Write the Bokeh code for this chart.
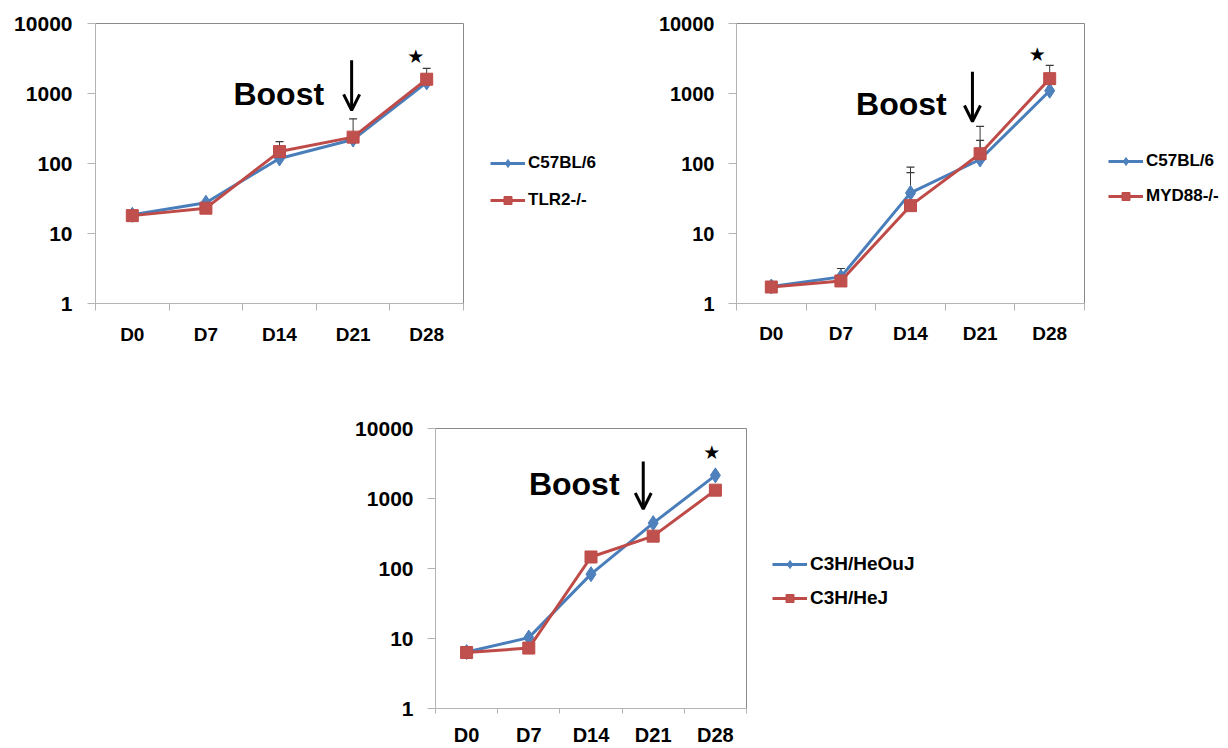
import math
from bokeh.plotting import figure
from bokeh.models import (ColumnDataSource, Range1d, FixedTicker, PrintfTickFormatter,
                          Legend, LegendItem, Whisker, TeeHead, Arrow, OpenHead, Label)
from bokeh.layouts import column, row
from bokeh.embed import file_html
from bokeh.resources import INLINE

NaN = float("nan")

# ---------------- data ----------------
days = ["D0", "D7", "D14", "D21", "D28"]
yticks = [1, 10, 100, 1000, 10000]

p1_names = ["C57BL/6", "TLR2-/-"]
p1_blue = [18.5, 27.5, 118, 220, 1440]
p1_red = [18, 23, 148, 238, 1600]
p1_blue_err = [NaN, NaN, NaN, NaN, NaN]
p1_red_err = [NaN, NaN, 205, 435, 2280]

p2_names = ["C57BL/6", "MYD88-/-"]
p2_blue = [1.75, 2.4, 38, 114, 1095]
p2_red = [1.72, 2.1, 25, 138, 1630]
p2_blue_err = [NaN, 3.16, 89, 214, NaN]
p2_red_err = [NaN, NaN, 74, 339, 2530]

p3_names = ["C3H/HeOuJ", "C3H/HeJ"]
p3_blue = [6.4, 10.3, 83, 445, 2140]
p3_red = [6.3, 7.3, 146, 290, 1316]
p3_blue_err = [NaN, NaN, NaN, NaN, NaN]
p3_red_err = [NaN, NaN, NaN, NaN, NaN]

BLUE_LINE = "#4A7EBB"
BLUE_FILL = "#4F81BD"
RED_LINE = "#BE4B48"
RED_FILL = "#C0504D"
AXIS_C = "#b4b4b4"
OUTLINE_C = "#8a8a8a"
FONT = "Liberation Sans"


def series_glyphs(fig, xs, blue, red):
    bl = fig.line(xs, blue, line_color=BLUE_LINE, line_width=3)
    bm = fig.scatter(xs, blue, marker="diamond", size=15, fill_color=BLUE_FILL,
                     line_color=BLUE_LINE, line_width=1)
    rl = fig.line(xs, red, line_color=RED_LINE, line_width=3)
    rm = fig.scatter(xs, red, marker="square", size=12, fill_color=RED_FILL,
                     line_color=RED_LINE, line_width=1)
    return bl, bm, rl, rm


def make_panel(names, blue, red, blue_err, red_err, geo):
    n = len(days)
    xs = [i + 0.5 for i in range(n)]
    p = figure(width=geo["width"], height=geo["height"], y_axis_type="log",
               x_range=Range1d(0, n), y_range=Range1d(yticks[0], yticks[-1]),
               output_backend="svg", toolbar_location=None,
               min_border_left=geo["left"], min_border_right=geo["right"],
               min_border_top=geo["top"], min_border_bottom=geo["bottom"])
    p.xgrid.visible = False
    p.ygrid.visible = False
    p.outline_line_color = OUTLINE_C
    p.outline_line_width = 1
    p.background_fill_color = "white"
    p.border_fill_color = "white"

    # x axis: labels at centres, ticks at category boundaries
    xa = p.xaxis[0]
    xa.ticker = FixedTicker(ticks=xs, minor_ticks=list(range(n + 1)))
    xa.major_label_overrides = {x: d for x, d in zip(xs, days)}
    xa.major_tick_line_color = None
    xa.major_tick_out = 0
    xa.major_tick_in = 0
    xa.minor_tick_line_color = AXIS_C
    xa.minor_tick_out = geo["xtick"]
    xa.minor_tick_in = 0
    xa.axis_line_color = AXIS_C
    xa.major_label_text_font = FONT
    xa.major_label_text_font_style = "bold"
    xa.major_label_text_font_size = geo["xfont"]
    xa.major_label_text_color = "black"
    xa.major_label_standoff = geo["xstand"]

    ya = p.yaxis[0]
    ya.ticker = FixedTicker(ticks=yticks, minor_ticks=[])
    ya.formatter = PrintfTickFormatter(format="%d")
    ya.major_tick_line_color = AXIS_C
    ya.major_tick_out = 8
    ya.major_tick_in = 0
    ya.minor_tick_line_color = None
    ya.axis_line_color = AXIS_C
    ya.major_label_text_font = FONT
    ya.major_label_text_font_style = "bold"
    ya.major_label_text_font_size = geo["yfont"]
    ya.major_label_text_color = "black"
    ya.major_label_standoff = geo["ystand"]

    # error bars (upper only), drawn beneath the markers
    for vals, errs in ((blue, blue_err), (red, red_err)):
        ex = [x for x, e in zip(xs, errs) if not math.isnan(e)]
        eb = [v for v, e in zip(vals, errs) if not math.isnan(e)]
        eu = [e for e in errs if not math.isnan(e)]
        if ex:
            src = ColumnDataSource(dict(x=ex, lower=eb, upper=eu))
            w = Whisker(source=src, base="x", lower="lower", upper="upper",
                        dimension="height", line_color="#3a3a3a", line_width=1,
                        upper_head=TeeHead(size=8, line_color="#3a3a3a", line_width=1.2),
                        lower_head=None, level="underlay")
            p.add_layout(w)

    series_glyphs(p, xs, blue, red)

    # annotations: Boost label, arrow, significance star
    bx, by = geo["boost"]
    p.add_layout(Label(x=bx, y=by, text="Boost", text_align="center",
                       text_baseline="middle", text_font=FONT,
                       text_font_style="bold", text_font_size="32px",
                       text_color="black"))
    ax, ay0, ay1 = geo["arrow"]
    p.add_layout(Arrow(x_start=ax, y_start=ay0, x_end=ax, y_end=ay1,
                       line_width=3, line_color="black",
                       end=OpenHead(size=16, line_width=3, line_color="black")))
    sx, sy = geo["star"]
    p.add_layout(Label(x=sx, y=sy, text="\u2605", text_align="center",
                       text_baseline="middle", text_font="DejaVu Sans",
                       text_font_size="19px", text_color="black"))

    # legend lives in its own small canvas to the right of the plot frame
    # (its frame is aligned with the plot frame by the row layout);
    # its series glyphs sit outside that canvas' visible range, so only the
    # legend samples show.
    lf = figure(width=geo["lwidth"], height=geo["height"],
                x_range=Range1d(-20, -10), y_range=Range1d(1e-6, 1e-5),
                y_axis_type="log", output_backend="svg", toolbar_location=None,
                x_axis_location=None, y_axis_location=None,
                min_border=0, min_border_left=0, min_border_right=0,
                min_border_top=0, min_border_bottom=0)
    lf.xgrid.visible = False
    lf.ygrid.visible = False
    lf.outline_line_color = None
    lf.background_fill_color = "white"
    lf.border_fill_color = "white"
    bl, bm, rl, rm = series_glyphs(lf, xs, blue, red)
    leg = Legend(items=[LegendItem(label=names[0], renderers=[bl, bm]),
                        LegendItem(label=names[1], renderers=[rl, rm])],
                 location=geo["legloc"], orientation="vertical",
                 border_line_color=None, background_fill_alpha=0,
                 padding=0, margin=0, glyph_width=35, glyph_height=20,
                 label_height=20, label_standoff=3, spacing=geo["legspace"],
                 label_text_font=FONT, label_text_font_style="bold",
                 label_text_font_size=geo["legfont"], label_text_color="black")
    lf.add_layout(leg, "center")
    return p, lf


geo1 = dict(width=465, height=368, left=95, right=2, top=23, bottom=65,
            lwidth=157, legloc=(25, 93), legspace=17, legfont="17px",
            xfont="19px", yfont="21px", xstand=13, ystand=15, xtick=7,
            boost=(2.49, 10 ** 3.0), arrow=(3.48, 10 ** 3.475, 10 ** 2.76),
            star=(4.35, 10 ** 3.53))
geo2 = dict(width=464, height=368, left=114, right=2, top=23, bottom=63,
            lwidth=142, legloc=(22, 97), legspace=15, legfont="17px",
            xfont="19px", yfont="20px", xstand=12, ystand=14, xtick=7,
            boost=(2.37, 10 ** 2.85), arrow=(3.39, 10 ** 3.31, 10 ** 2.60),
            star=(4.32, 10 ** 3.56))
geo3 = dict(width=748, height=380, left=435, right=2, top=60, bottom=36,
            lwidth=250, legloc=(24, 99), legspace=12, legfont="19px",
            xfont="20px", yfont="21px", xstand=10, ystand=14, xtick=5,
            boost=(2.23, 10 ** 3.21), arrow=(3.34, 10 ** 3.53, 10 ** 2.85),
            star=(4.44, 10 ** 3.66))

p1, l1 = make_panel(p1_names, p1_blue, p1_red, p1_blue_err, p1_red_err, geo1)
p2, l2 = make_panel(p2_names, p2_blue, p2_red, p2_blue_err, p2_red_err, geo2)
p3, l3 = make_panel(p3_names, p3_blue, p3_red, p3_blue_err, p3_red_err, geo3)

layout = column(row(p1, l1, p2, l2), row(p3, l3))
open("out.html", "w").write(file_html(layout, INLINE))
